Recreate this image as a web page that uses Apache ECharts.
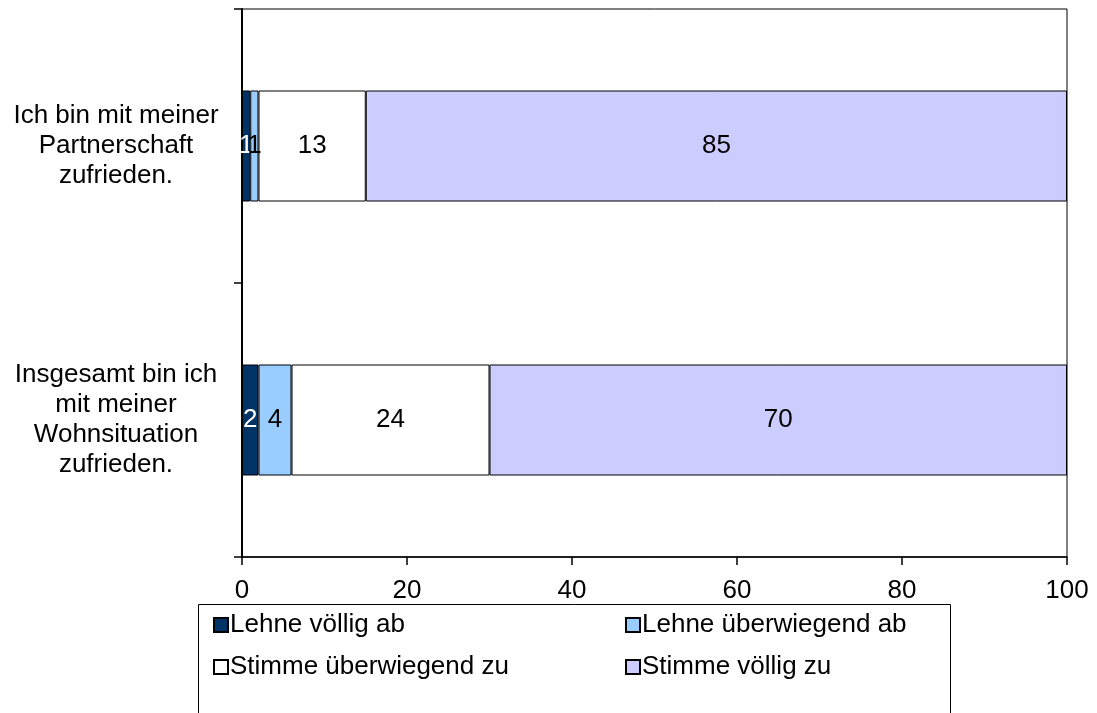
<!DOCTYPE html>
<html>
<head>
<meta charset="utf-8">
<script src="https://cdn.jsdelivr.net/npm/echarts@6/dist/echarts.min.js"></script>
<style>html,body{margin:0;padding:0;background:#fff}#c{width:1097px;height:713px}</style>
</head>
<body>
<div id="c"></div>
<script>
const categories = ["Ich bin mit meiner\nPartnerschaft\nzufrieden.", "Insgesamt bin ich\nmit meiner\nWohnsituation\nzufrieden."];
const seriesNames = ["Lehne völlig ab", "Lehne überwiegend ab", "Stimme überwiegend zu", "Stimme völlig zu"];
const lehneVoellig = [1, 2];
const lehneUeberwiegend = [1, 4];
const stimmeUeberwiegend = [13, 24];
const stimmeVoellig = [85, 70];
const xTicks = [0, 20, 40, 60, 80, 100];

const colors = ["#003366", "#99CCFF", "#FFFFFF", "#CCCCFF"];
const labelColors = ["#FFFFFF", "#000000", "#000000", "#000000"];
const values = [lehneVoellig, lehneUeberwiegend, stimmeUeberwiegend, stimmeVoellig];
const FONT = "Liberation Sans, Arial, sans-serif";
const FS = 26;

const chart = echarts.init(document.getElementById('c'), null, {renderer: 'canvas'});

const legendPos = [
  {left: 213, top: 612},
  {left: 625, top: 612},
  {left: 213, top: 654},
  {left: 625, top: 654}
];

const option = {
  animation: false,
  backgroundColor: '#ffffff',
  grid: {left: 242, right: 30, top: 9, bottom: 156, show: true, borderColor: '#000', borderWidth: 1, containLabel: false},
  xAxis: {
    type: 'value', min: xTicks[0], max: xTicks[xTicks.length - 1], interval: 20,
    axisLine: {show: true, lineStyle: {color: '#000', width: 1.5}},
    axisTick: {show: true, length: 8, lineStyle: {color: '#000', width: 1.5}},
    splitLine: {show: false},
    axisLabel: {color: '#000', fontFamily: FONT, fontSize: FS, margin: 21}
  },
  yAxis: {
    type: 'category', data: categories, inverse: true,
    axisLine: {show: true, lineStyle: {color: '#000', width: 2}},
    axisTick: {show: true, length: 8, inside: false, lineStyle: {color: '#000', width: 1.5}},
    splitLine: {show: false},
    axisLabel: {color: '#000', fontFamily: FONT, fontSize: FS, lineHeight: 30, align: 'center', margin: 126, padding: [8, 0, 0, 0]}
  },
  legend: seriesNames.map((n, i) => ({
    data: [n], left: legendPos[i].left, top: legendPos[i].top, padding: 0,
    icon: 'rect', itemWidth: 14, itemHeight: 14, itemGap: 0,
    textStyle: {color: '#000', fontFamily: FONT, fontSize: FS, padding: [0,0,0,-3]},
    selectedMode: false
  })),
  graphic: [{
    type: 'rect', shape: {x: 198.5, y: 604.5, width: 752, height: 200},
    style: {fill: 'none', stroke: '#000', lineWidth: 1}, silent: true
  }],
  series: seriesNames.map((n, i) => ({
    name: n, type: 'bar', stack: 'total', barWidth: 111,
    data: values[i],
    itemStyle: {color: colors[i], borderColor: '#000', borderWidth: 1},
    label: {show: true, position: 'inside', color: labelColors[i], fontFamily: FONT, fontSize: FS,
            textBorderWidth: 0, formatter: p => String(p.value)}
  }))
};
chart.setOption(option);
</script>
</body>
</html>
